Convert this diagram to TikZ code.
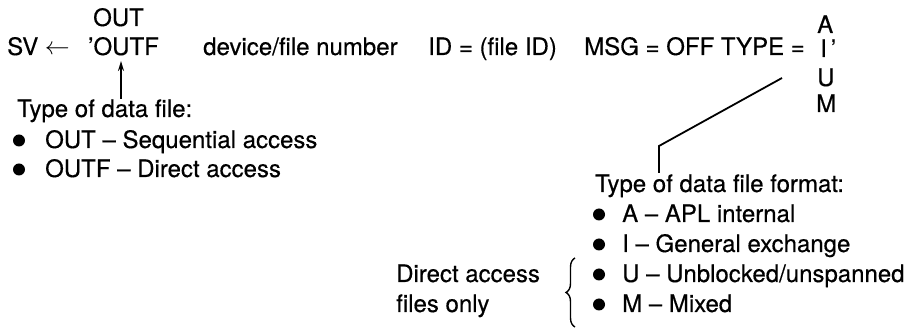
\documentclass[tikz,border=0pt]{standalone}
\usepackage{fontspec}
\setmainfont{TeX Gyre Heros}[FakeBold=0.4]
\usetikzlibrary{arrows.meta,decorations.pathreplacing}
\begin{document}
\begin{tikzpicture}[x=1pt,y=-1pt,
  txt/.style={inner sep=0pt, anchor=base west, font=\fontsize{24}{28}\selectfont},
  txte/.style={txt, anchor=base east},
  bul/.style={fill=black},
  conn/.style={line width=1.8pt},
  arr/.style={line width=1.6pt, -{Stealth[length=10pt,width=6pt]}},
  brc/.style={line width=1.4pt, decorate, decoration={brace, amplitude=9pt}}]
\useasboundingbox (0,0) rectangle (919,328);
% top line
\node[txt] (out) at (93,26) {OUT};
\node[txt] (sv) at (7,55) {SV $\leftarrow$};
\node[txt] (outf) at (88,55) {'OUTF};
\node[txt] (dev) at (203,55) {device/file number};
\node[txt] (id) at (428,55) {ID = (file ID)};
\node[txte] (msg) at (805,55) {MSG = OFF TYPE =};
\node[txt] (ta) at (817,33) {A};
\node[txt] (ti) at (820,57) {I\,'};
\node[txt] (tu) at (817,86) {U};
\node[txt] (tm) at (816,112) {M};
% left block
\node[txt] (tdf) at (17,117) {Type of data file:};
\node[txt] (l1) at (45,148) {OUT -- Sequential access};
\node[txt] (l2) at (45,177) {OUTF -- Direct access};
\fill[bul] (19,140.5) circle (6);
\fill[bul] (19,169.5) circle (6);
\coordinate (a1) at (121,99);
\coordinate (a2) at (121,61);
\draw[arr] (a1) -- (a2);
% right block
\node[txt] (tdff) at (595,192) {Type of data file format:};
\node[txt] (r1) at (622,222) {A -- APL internal};
\node[txt] (r2) at (622,252) {I -- General exchange};
\node[txt] (r3) at (622,282) {U -- Unblocked/unspanned};
\node[txt] (r4) at (622,312) {M -- Mixed};
\foreach \yy in {214.5,244.5,274.5,304.5} \fill[bul] (599,\yy) circle (6);
\node[txt] (da) at (396,282) {Direct access};
\node[txt] (fo) at (396,312) {files only};
\coordinate (b1) at (575,327);
\coordinate (b2) at (575,258);
\draw[brc] (b1) -- (b2);
\coordinate (c1) at (782,78);
\coordinate (c2) at (659,146);
\coordinate (c3) at (659,173);
\draw[conn] (c1) -- (c2) -- (c3);
\end{tikzpicture}
\end{document}
